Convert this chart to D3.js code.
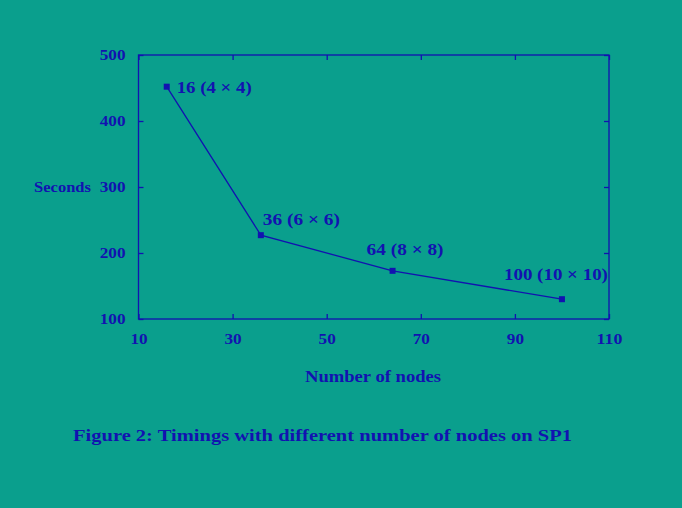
<!DOCTYPE html>
<html><head><meta charset="utf-8">
<script src="https://cdn.jsdelivr.net/npm/d3@7"></script>
<style>html,body{margin:0;padding:0;background:#0a9f8d;}svg{display:block;}</style>
</head><body>
<script>
const nodes = [16, 36, 64, 100];
const seconds = [452, 227, 173, 130];
const pointLabels = ["16 (4 \u00d7 4)", "36 (6 \u00d7 6)", "64 (8 \u00d7 8)", "100 (10 \u00d7 10)"];
const xTicks = [10, 30, 50, 70, 90, 110];
const yTicks = [100, 200, 300, 400, 500];

const W = 682, H = 508;
const bg = "#0a9f8d", ink = "#1212b0";
const font = "'Liberation Serif', 'DejaVu Serif', serif";
const svg = d3.select("body").append("svg").attr("width", W).attr("height", H);
svg.append("rect").attr("width", W).attr("height", H).attr("fill", bg);

const x = d3.scaleLinear().domain([10, 110]).range([138.5, 609]);
const y = d3.scaleLinear().domain([100, 500]).range([319, 55]);

const g = svg.append("g").attr("font-family", font).attr("fill", ink);

g.append("rect").attr("x", x(10)).attr("y", y(500)).attr("width", x(110) - x(10)).attr("height", y(100) - y(500))
  .attr("fill", "none").attr("stroke", ink).attr("stroke-width", 1.3);

const axB = d3.axisBottom(x).tickValues(xTicks).tickSizeInner(-5).tickSizeOuter(0).tickPadding(14).tickFormat(d3.format("d"));
const axT = d3.axisTop(x).tickValues(xTicks).tickSizeInner(-5).tickSizeOuter(0).tickFormat("");
const axL = d3.axisLeft(y).tickValues(yTicks).tickSizeInner(-5).tickSizeOuter(0).tickPadding(13).tickFormat(d3.format("d"));
const axR = d3.axisRight(y).tickValues(yTicks).tickSizeInner(-5).tickSizeOuter(0).tickFormat("");

function style(sel) {
  sel.select(".domain").remove();
  sel.selectAll(".tick line").attr("stroke", ink).attr("stroke-width", 1.3);
  sel.selectAll(".tick text").attr("fill", ink).attr("font-family", font).attr("font-size", 15).attr("font-weight", "bold")
    .attr("textLength", function() { return this.textContent.length * 8.6; })
    .attr("lengthAdjust", "spacingAndGlyphs");
}
g.append("g").attr("transform", `translate(0,${y(100)})`).call(axB).call(style);
g.append("g").attr("transform", `translate(0,${y(500)})`).call(axT).call(style);
g.append("g").attr("transform", `translate(${x(10)},0)`).call(axL).call(style);
g.append("g").attr("transform", `translate(${x(110)},0)`).call(axR).call(style);

const data = nodes.map((n, i) => ({n, s: seconds[i], label: pointLabels[i]}));
g.append("path").datum(data)
  .attr("d", d3.line().x(d => x(d.n)).y(d => y(d.s)))
  .attr("fill", "none").attr("stroke", ink).attr("stroke-width", 1.3);

g.selectAll("rect.pt").data(data).enter().append("rect").attr("class", "pt")
  .attr("x", d => x(d.n) - 3).attr("y", d => y(d.s) - 3).attr("width", 6).attr("height", 6).attr("fill", ink);

const offs = [[10, 6], [2, -10], [-26, -16], [-58, -19]];
const lens = [75, 77, 77, 104];
g.selectAll("text.pl").data(data).enter().append("text").attr("class", "pl")
  .attr("x", (d, i) => x(d.n) + offs[i][0]).attr("y", (d, i) => y(d.s) + offs[i][1])
  .attr("font-size", 16).attr("font-weight", "bold")
  .attr("textLength", (d, i) => lens[i]).attr("lengthAdjust", "spacingAndGlyphs")
  .text(d => d.label);

g.append("text").attr("x", 305).attr("y", 382).attr("font-size", 16).attr("font-weight", "bold")
  .attr("textLength", 136).attr("lengthAdjust", "spacingAndGlyphs").text("Number of nodes");
g.append("text").attr("x", 34).attr("y", 192).attr("font-size", 15).attr("font-weight", "bold")
  .attr("textLength", 57).attr("lengthAdjust", "spacingAndGlyphs").text("Seconds");

g.append("text").attr("x", 73).attr("y", 441).attr("font-size", 17).attr("font-weight", "bold")
  .attr("textLength", 499).attr("lengthAdjust", "spacingAndGlyphs")
  .text("Figure 2: Timings with different number of nodes on SP1");
</script>
</body></html>
